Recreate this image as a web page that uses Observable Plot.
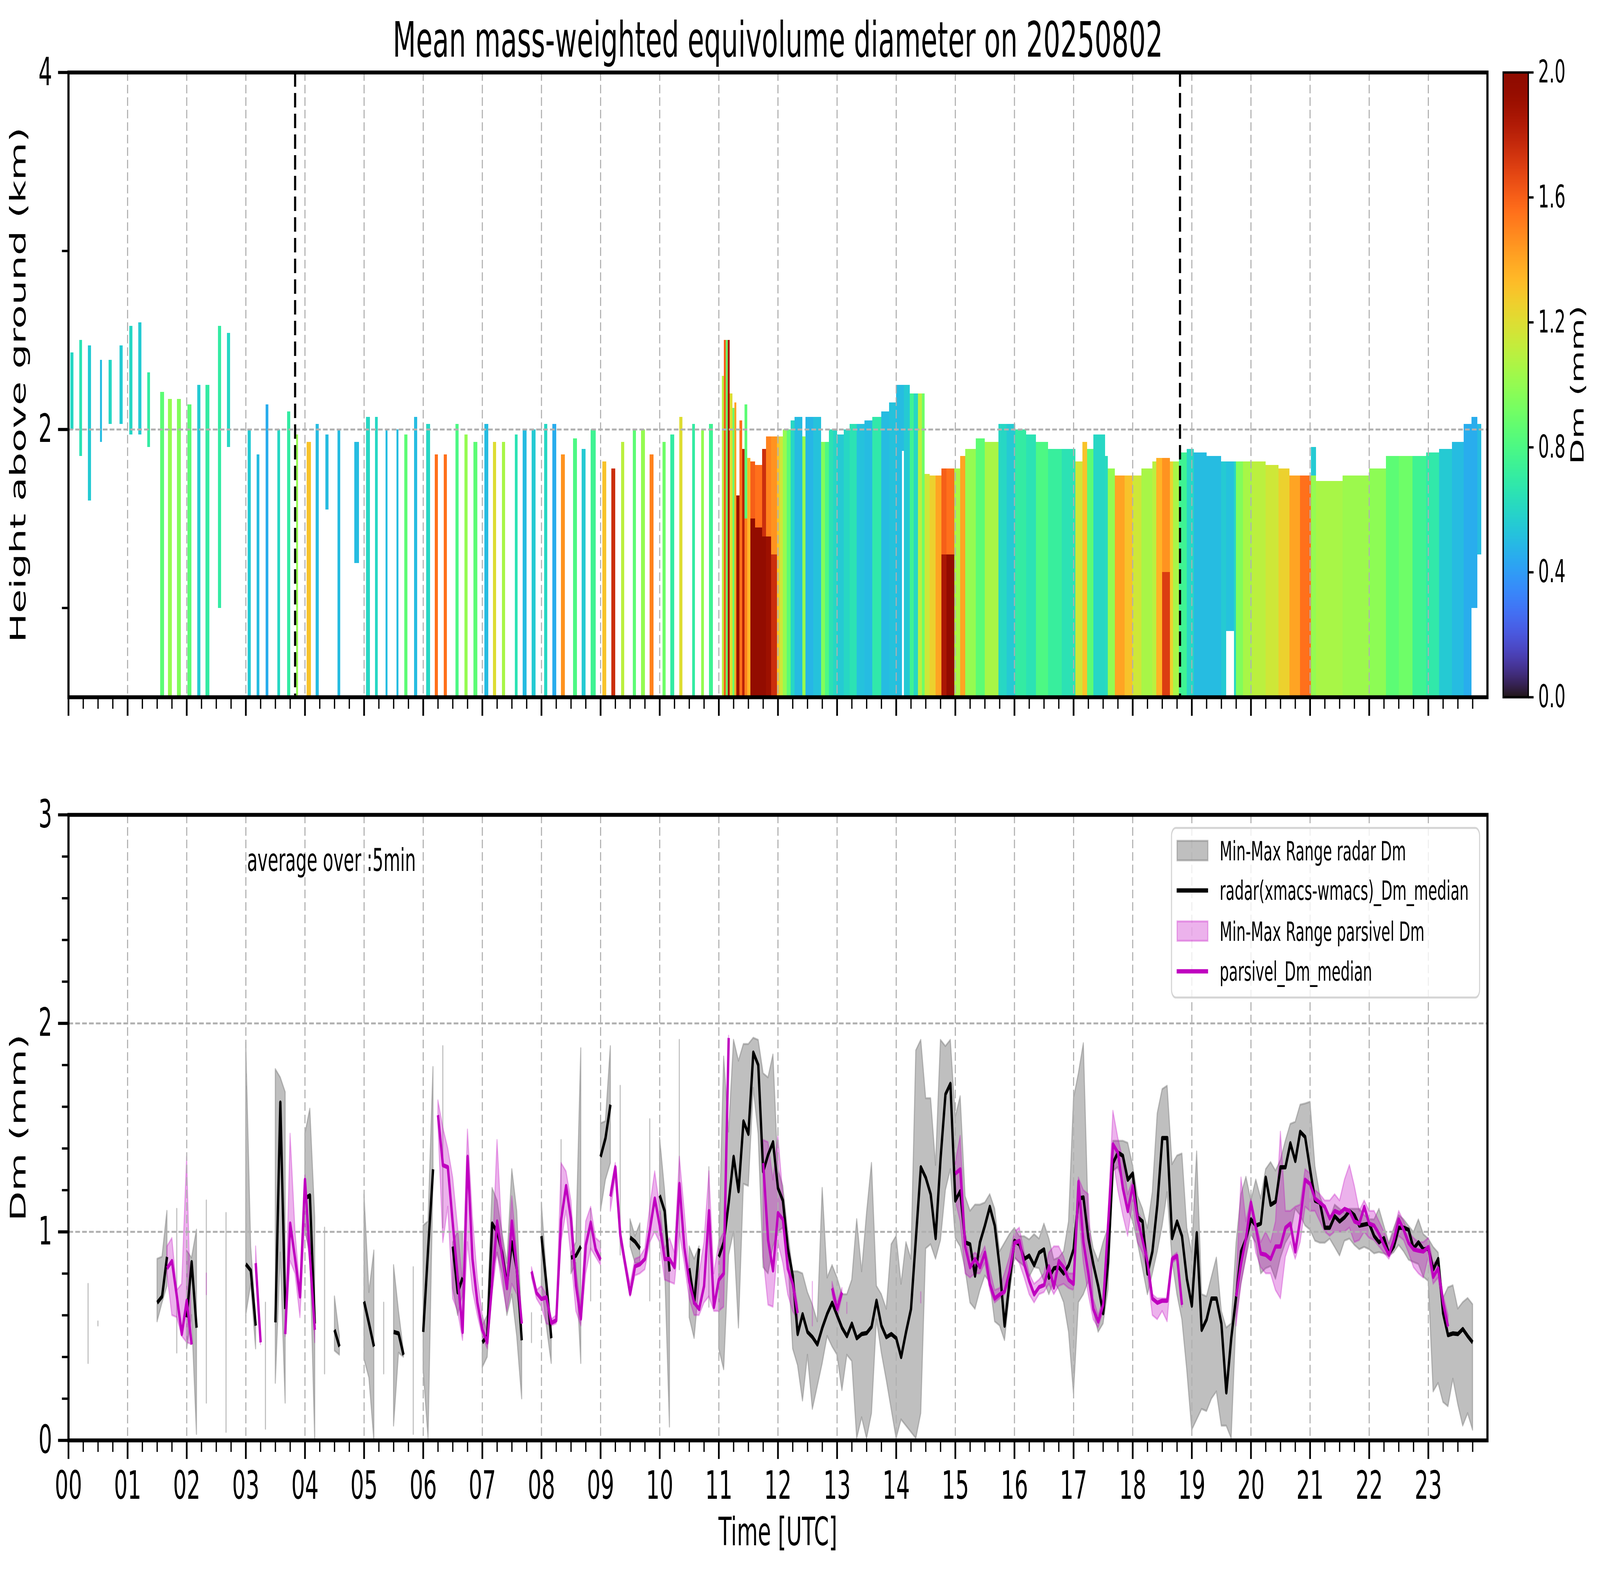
<!DOCTYPE html>
<html><head><meta charset="utf-8">
<script src="https://cdn.jsdelivr.net/npm/d3@7"></script>
<script src="https://cdn.jsdelivr.net/npm/@observablehq/plot@0.6"></script>
<style>
html,body{margin:0;padding:0;background:#fff;overflow:hidden;}
#wrap{position:relative;overflow:hidden;background:#fff;}
#fig{position:absolute;left:0;top:0;width:7442px;height:4031px;background:#fff;overflow:hidden;font-family:"DejaVu Sans",sans-serif;transform-origin:0 0;}
#fig svg{position:absolute;max-width:none;}
</style></head>
<body><div id="wrap"><div id="fig"></div></div>
<script>
// ---------- tick labels ----------
const hourLabels = ["00","01","02","03","04","05","06","07","08","09","10","11","12","13","14","15","16","17","18","19","20","21","22","23"];
const heightTicks = [2, 4];
const heightMinor = [1, 3];
const dmTicks = [0, 1, 2, 3];
const dmMinor = [0.2, 0.4, 0.6, 0.8, 1.2, 1.4, 1.6, 1.8, 2.2, 2.4, 2.6, 2.8];
const cbarTicks = [0, 0.4, 0.8, 1.2, 1.6, 2.0];
const eventTimes = [230, 1128]; // minutes of day (dashed markers)

// ---------- top panel: Dm curtain cells [startMin, endMin, topKm, bottomKm, Dm] ----------
const stripeCells = [
 [2,5,2.43,2.0,0.6],[11,14,2.5,1.85,0.65],[20,23,2.47,1.6,0.55],[32,34,2.39,1.93,0.5],[41,44,2.39,2.03,0.6],
 [52,55,2.47,2.03,0.55],[62,65,2.58,1.97,0.6],[71,74,2.6,1.97,0.55],[80,83,2.32,1.9,0.7],[93,97,2.21,0.5,0.85],
 [101,105,2.17,0.5,1.0],[110,114,2.17,0.5,0.95],[121,125,2.14,0.5,0.85],[131,134,2.25,0.5,0.55],[139,143,2.25,0.5,0.7],
 [152,155,2.58,1.0,0.7],[161,164,2.54,1.9,0.6],[182,185,2.0,0.5,0.55],[191,194,1.86,0.5,0.5],[200,203,2.14,0.5,0.45],
 [212,215,2.0,0.5,0.6],[222,225,2.1,0.5,0.7],[231,233,1.97,0.5,1.0],[242,246,1.93,0.5,1.3],[251,254,2.03,0.5,0.5],
 [261,264,1.97,1.55,0.5],[273,276,2.0,0.5,0.5],[290,295,1.93,1.25,0.5],[302,306,2.07,0.5,0.6],[311,314,2.07,0.5,0.6],
 [322,324,2.0,0.5,0.5],[333,335,2.0,0.5,0.5],[341,344,1.97,0.5,0.85],[351,354,2.07,0.5,0.5],[363,367,2.03,0.5,0.6],
 [372,375,1.86,0.5,1.55],[381,384,1.86,0.5,1.55],[393,396,2.03,0.5,0.8],[402,405,1.97,0.5,1.0],[411,415,1.93,0.5,0.85],
 [422,426,2.03,0.5,0.5],[431,434,1.93,0.5,1.2],[440,443,1.93,0.5,1.05],[453,456,1.97,0.5,0.65],[461,465,2.0,0.5,0.5],
 [470,474,2.0,0.5,0.55],[483,486,2.03,0.5,0.6],[491,495,2.03,0.5,0.45],[500,504,1.86,0.5,1.45],[512,516,1.95,0.5,0.8],
 [521,525,1.89,0.5,0.55],[530,535,2.0,0.5,0.75],[542,546,1.82,0.5,1.3],[551,555,1.78,0.5,1.75],[561,564,1.93,0.5,1.1],
 [573,576,2.0,0.5,0.85],[581,585,2.0,0.5,1.0],[590,594,1.86,0.5,1.5],[603,606,1.93,0.5,0.9],[611,615,1.97,0.5,0.7],
 [620,623,2.07,0.5,1.2],[633,636,2.03,0.5,0.7],[642,645,2.0,0.5,1.0],[650,654,2.03,0.5,0.75]
];
const rainCells = [
 [663,665,2.3,0.5,1.1],[665,667,2.5,0.5,1.6],[667,669,2.5,0.5,0.9],[669,671,2.5,0.5,1.85],[671,674,2.2,0.5,1.2],
 [674,676,2.12,0.5,0.9],[676,678,2.15,0.5,1.4],[678,681,1.63,0.5,1.9],[681,684,2.05,0.5,1.55],[684,686,1.89,0.5,1.8],
 [686,689,2.14,1.5,0.85],[686,689,1.5,0.5,1.5],[689,692,1.84,0.5,1.35],[692,697,1.82,1.5,1.6],[692,697,1.5,0.5,1.95],
 [697,704,1.8,1.45,1.55],[697,704,1.45,0.5,1.95],[704,708,1.89,1.4,1.75],[704,708,1.4,0.5,1.95],[708,713,1.96,1.4,1.5],
 [708,713,1.4,0.5,1.9],[713,719,1.96,1.3,1.45],[713,719,1.3,0.5,1.75],[719,722,1.96,0.5,1.3],[722,725,1.96,0.5,1.15],
 [725,729,2.0,0.5,1.0],[729,733,2.0,0.5,0.85],[733,737,2.05,0.5,0.6],[737,745,2.07,0.5,0.5],[745,748,1.96,0.5,1.0],
 [748,756,2.07,0.5,0.48],[756,764,2.07,0.5,0.52],[764,768,1.93,0.5,0.95],[768,772,1.93,0.5,0.8],[772,776,2.0,0.5,0.65],
 [776,780,2.0,0.5,0.6],[780,787,1.97,0.5,0.55],[787,793,2.0,0.5,0.6],[793,800,2.03,0.5,0.65],[800,808,2.03,0.5,0.52],
 [808,816,2.05,0.5,0.5],[816,825,2.07,0.5,0.68],[825,833,2.1,0.5,0.5],[833,840,2.15,0.5,0.52],[840,846,2.25,0.5,0.5],
 [846,848,2.25,1.88,0.5],[848,854,2.25,0.5,0.55],[854,858,2.2,0.5,0.75],[858,862,2.2,0.5,0.6],[862,866,2.2,0.5,1.1],
 [866,869,2.2,0.5,0.9],[869,874,1.75,0.5,1.15],[874,880,1.74,0.5,1.25],[880,886,1.74,0.5,1.4],[886,891,1.78,1.3,1.6],
 [886,891,1.3,0.5,1.85],[891,899,1.78,1.3,1.55],[891,899,1.3,0.5,1.95],[899,905,1.78,0.5,1.05],[905,910,1.85,0.5,1.4],
 [910,921,1.89,0.5,1.0],[921,930,1.95,0.5,0.85],[930,944,1.93,0.5,1.05],[944,952,2.03,0.5,0.6],[952,961,2.03,0.5,0.55],
 [961,972,2.0,0.5,0.7],[972,982,1.97,0.5,0.65],[982,994,1.93,0.5,0.8],[994,1008,1.89,0.5,0.72],[1008,1022,1.89,0.5,0.65],
 [1022,1029,1.82,0.5,1.15],[1029,1034,1.93,0.5,1.3],[1034,1040,1.89,0.5,0.85],[1040,1052,1.97,0.5,0.6],[1052,1055,1.85,0.5,0.62],
 [1055,1062,1.78,0.5,1.0],[1062,1072,1.74,0.5,1.4],[1072,1080,1.74,0.5,1.3],[1080,1089,1.74,0.5,1.15],[1089,1100,1.78,0.5,1.05],
 [1100,1104,1.82,0.5,1.1],[1104,1110,1.84,0.5,1.35],[1110,1118,1.84,1.2,1.45],[1110,1118,1.2,0.5,1.7],[1118,1121,1.82,0.5,1.25],
 [1121,1127,1.82,0.5,1.05],[1127,1135,1.87,0.5,0.75],[1135,1142,1.89,0.5,0.6],[1142,1155,1.87,0.5,0.5],[1155,1170,1.85,0.5,0.5],
 [1170,1175,1.82,0.5,0.55],[1175,1183,1.82,0.87,0.52],[1183,1185,1.82,0.5,0.6],[1185,1192,1.82,0.5,0.95],[1192,1201,1.82,0.5,1.05],
 [1201,1215,1.82,0.5,1.1],[1215,1228,1.8,0.5,1.15],[1228,1239,1.78,0.5,1.25],[1239,1250,1.74,0.5,1.4],[1250,1261,1.74,0.5,1.55],
 [1261,1266,1.9,1.74,0.55],[1261,1266,1.74,0.5,1.0],[1266,1293,1.71,0.5,1.05],[1293,1320,1.74,0.5,1.02],[1320,1337,1.78,0.5,0.98],
 [1337,1350,1.85,0.5,0.85],[1350,1364,1.85,0.5,0.9],[1364,1378,1.85,0.5,0.75],[1378,1391,1.87,0.5,0.68],[1391,1404,1.89,0.5,0.55],
 [1404,1416,1.93,0.5,0.5],[1416,1424,2.03,0.5,0.45],[1424,1430,2.07,1.0,0.45],[1430,1434,2.03,1.3,0.5]
];

// ---------- bottom panel: [minute, min, median, max]; null = gap ----------
const radarRows = [
 [20,.37,null,.75],null,[30,.55,null,.57],null,
 [90,.57,.66,.87],[95,.66,.69,.88],[100,.74,.88,1.10],null,
 [110,.42,null,1.11],null,
 [120,.44,.59,.91],[125,.60,.855,.875],[130,.03,.54,1.01],null,
 [140,.18,null,1.15],null,[160,.04,null,1.09],null,
 [180,.60,.845,1.91],[185,.75,.815,.93],[190,.44,.55,.60],null,
 [200,.055,null,.66],null,
 [210,.275,.566,1.78],[215,.90,1.62,1.74],[220,.18,.63,1.67],null,
 [240,1.0,1.16,1.47],[245,.90,1.175,1.59],[250,0,.56,1.07],null,
 [260,.32,null,1.02],null,
 [270,.43,.53,.69],[275,.41,.45,.50],null,
 [300,.39,.666,1.18],[305,.30,.56,.71],[310,0,.45,.91],null,
 [320,.32,null,.66],null,
 [330,.07,.52,.84],[335,.42,.513,.62],[340,.40,.41,.43],null,
 [350,.03,null,.83],null,
 [360,.34,.52,1.03],[365,.01,.92,1.05],[370,1.25,1.30,1.79],null,
 [380,1.02,null,1.89],null,
 [390,.73,.93,.95],[395,.60,.71,1.0],[400,.70,.78,1.0],null,
 [420,.35,.47,.55],[425,.40,.50,.60],[430,.80,1.04,1.21],[435,.90,1.0,1.15],[440,.80,.90,1.0],[445,.60,.75,.85],[450,.70,.95,1.30],[455,.50,.82,1.10],[460,.20,.48,.55],null,
 [470,.47,null,.61],null,
 [480,.75,.98,1.14],[485,.55,.75,.80],[490,.37,.49,.55],null,
 [500,1.0,null,1.44],null,
 [510,.80,.876,.90],[515,.85,.886,.95],[520,.37,.93,1.88],null,
 [530,.67,null,1.11],null,
 [540,1.10,1.36,1.52],[545,1.25,1.45,1.53],[550,1.33,1.61,1.89],null,
 [560,.89,null,1.70],null,
 [570,.93,.973,1.06],[575,.85,.953,.98],[580,.85,.92,1.04],null,
 [590,.67,null,1.54],null,
 [600,1.10,1.175,1.45],[605,.85,1.10,1.20],[610,.065,.81,.85],null,
 [620,.82,null,1.92],null,
 [630,.59,.825,.93],[635,.49,.66,.87],[640,.75,.92,.93],null,
 [650,.64,null,1.31],null,
 [660,.44,.88,.92],[665,.34,.95,1.84],[670,.89,1.14,1.48],[675,1.0,1.36,1.92],[680,.54,1.195,1.82],[685,1.23,1.53,1.90],[690,1.22,1.47,1.90],[695,1.69,1.86,1.93],[700,1.47,1.80,1.92],[705,.83,1.29,1.76],
 [710,.80,1.37,1.74],[715,.93,1.43,1.85],[720,1.0,1.21,1.30],[725,1.02,1.15,1.22],[730,.90,.92,1.0],[735,.44,.79,.81],[740,.36,.51,.81],[745,.19,.605,.80],[750,.41,.52,.71],[755,.15,.495,.65],
 [760,.26,.46,.57],[765,.37,.54,1.21],[770,.50,.607,.78],[775,.45,.66,.84],[780,.41,.60,.78],[785,.24,.54,.70],[790,.41,.50,.70],[795,.38,.56,.77],[800,.01,.49,1.06],[805,.11,.51,.81],
 [810,.01,.515,1.09],[815,.13,.545,1.33],[820,.58,.67,.74],[825,.42,.55,.70],[830,.29,.495,.63],[835,.15,.51,.94],[840,.01,.49,.98],[845,.10,.40,.75],[850,.07,.52,.95],[855,.04,.63,.87],
 [860,.01,.97,1.87],[865,.13,1.31,1.92],[870,.92,1.26,1.64],[875,.94,1.18,1.64],[880,.87,.97,1.32],[885,.96,1.35,1.92],[890,1.2,1.66,1.89],[895,1.3,1.71,1.92],[900,.97,1.15,1.55],[905,.93,1.195,1.65],
 [910,.82,.95,1.17],[915,.66,.94,1.10],[920,.63,.79,1.13],[925,.72,.95,1.13],[930,.79,1.03,1.14],[935,.76,1.12,1.18],[940,.57,1.03,1.11],
 [945,.55,.83,.906],[950,.48,.55,.947],[955,.70,.76,.988],[960,.876,.957,1.018],[965,.855,.94,.978],[970,.835,.87,.978],[975,.784,.886,.963],[980,.83,.84,.988],[985,.825,.90,.967],[990,.764,.916,1.039],
 [995,.70,.78,.967],[1000,.764,.825,.866],[1005,.723,.83,.876],[1010,.662,.80,.906],[1015,.52,.84,1.049],[1020,.224,.916,1.64],[1025,.662,1.16,1.76],[1030,.70,1.165,1.904],[1035,.764,.97,1.05],[1040,.62,.845,.92],
 [1045,.52,.74,.86],[1050,.56,.61,.95],[1055,.723,.855,1.02],[1060,1.293,1.33,1.436],[1065,1.31,1.38,1.436],[1070,1.23,1.365,1.436],[1075,1.11,1.25,1.426],[1080,1.05,1.28,1.318],[1085,.947,1.07,1.171],[1090,.825,1.05,1.11],
 [1095,.70,.80,1.018],[1100,.80,.906,1.19],[1105,.906,1.13,1.568],[1110,1.03,1.45,1.684],[1115,1.19,1.45,1.70],[1120,.866,.97,1.324],[1125,.70,1.05,1.365],[1130,.58,.98,1.375],[1135,.336,.774,1.018],[1140,.05,.646,.896],
 [1145,.10,.994,1.385],[1150,.15,.53,.70],[1155,.14,.58,.69],[1160,.20,.68,.784],[1165,.234,.68,.876],[1170,.07,.56,.62],[1175,.07,.23,.54],[1180,.01,.49,.56],[1185,.59,.69,.947],[1190,.754,.906,1.18],
 [1195,.876,.967,1.263],[1200,.988,1.06,1.15],[1205,.947,1.03,1.25],[1210,.80,1.04,1.16],[1215,.825,1.26,1.30],[1220,.835,1.13,1.334],[1225,.774,1.145,1.293],[1230,.876,1.31,1.344],[1235,.947,1.31,1.436],[1240,.988,1.425,1.517],
 [1245,1.11,1.34,1.527],[1250,1.08,1.48,1.609],[1255,1.03,1.455,1.615],[1260,1.01,1.30,1.623],[1265,.957,1.15,1.314],[1270,.947,1.14,1.171],[1275,.947,1.02,1.11],[1280,.967,1.02,1.059],[1285,.927,1.075,1.13],[1290,.886,1.05,1.11],
 [1295,.957,1.07,1.09],[1300,.967,1.10,1.11],[1305,.937,1.08,1.11],[1310,.916,1.03,1.11],[1315,.927,1.035,1.08],[1320,.916,1.04,1.06],[1325,.896,.98,1.059],[1330,.902,.95,1.11],[1335,.896,.97,1.028],[1340,.886,.896,.947],
 [1345,.902,.93,1.018],[1350,.937,1.02,1.08],[1355,.906,1.02,1.059],[1360,.866,1.01,1.028],[1365,.855,.92,.998],[1370,.845,.95,1.059],[1375,.784,.916,.988],[1380,.764,.92,.967],[1385,.234,.82,.927],[1390,.275,.87,.90],
 [1395,.183,.61,.682],[1400,.163,.505,.733],[1405,.295,.513,.743],[1410,.173,.51,.631],[1415,.07,.534,.662],[1420,.13,.50,.682],[1425,.05,.47,.652]
];
const parsivelRows = [
 [100,.80,.825,.93],[105,.60,.86,.97],[110,.59,.69,.72],[115,.50,.51,.75],[120,.47,.67,1.36],[125,.46,.46,.47],null,
 [140,.70,null,.80],null,
 [190,.84,.85,.93],[195,.46,.47,.48],null,
 [220,.50,.51,.52],[225,.86,1.04,1.47],[230,.80,.87,1.0],[235,.59,.69,.72],[240,1.05,1.25,1.27],[245,.85,.885,.95],[250,.47,.53,.55],null,
 [375,1.52,1.56,1.63],[380,.95,1.32,1.50],[385,1.12,1.31,1.40],[390,.68,1.04,1.26],[395,.62,.78,1.02],[400,.48,.52,.75],[405,.95,1.36,1.49],[410,.72,.87,1.07],[415,.60,.66,.78],[420,.50,.53,.60],
 [425,.44,.47,.52],[430,.70,.76,.85],[435,.90,1.05,1.44],[440,.75,.886,.98],[445,.62,.73,.78],[450,.75,1.05,1.17],[455,.70,.82,.90],[460,.55,.56,.57],null,
 [470,.78,.81,.83],[475,.68,.707,.72],[480,.64,.678,.74],[485,.56,.686,.70],[490,.55,.564,.58],[495,.56,.576,.60],[500,.95,1.06,1.33],[505,1.10,1.22,1.29],[510,.88,1.06,1.15],[515,.62,.743,.82],
 [520,.55,.584,.64],[525,.80,.936,1.05],[530,.92,1.045,1.12],[535,.88,.916,.97],[540,.84,.866,.95],null,
 [550,1.10,1.17,1.20],[555,1.26,1.31,1.33],[560,.95,.985,1.02],[565,.82,.845,.87],[570,.69,.703,.75],[575,.79,.835,.87],[580,.80,.845,.88],[585,.82,.87,.92],[590,.95,1.01,1.12],[595,1.0,1.16,1.29],
 [600,.95,1.03,1.12],[605,.77,.87,.92],[610,.76,.87,.97],[615,.75,.83,.90],[620,1.0,1.23,1.36],[625,.85,.925,1.10],[630,.68,.76,.82],[635,.60,.66,.72],[640,.60,.63,.80],[645,.66,.74,.95],
 [650,.69,1.10,1.29],[655,.62,.64,.80],[660,.62,.77,.95],[665,.64,.80,1.0],[670,1.90,1.93,1.94],null,
 [705,.88,1.33,1.44],[710,.65,.96,1.43],[715,.64,.815,1.25],[720,.95,1.09,1.46],[725,.85,1.06,1.18],[730,.70,.825,.95],[735,.62,.75,.80],[740,.58,.61,.65],null,
 [755,.55,null,.76],null,
 [775,.70,.73,.76],[780,.58,.63,.66],[785,.69,.71,.73],null,
 [790,.61,null,.66],null,
 [865,.66,null,.71],null,
 [900,1.15,1.28,1.33],[905,1.05,1.30,1.46],[910,.80,.93,1.0],[915,.78,.83,.88],[920,.80,.87,.90],[925,.80,.83,.88],[930,.85,.90,.93],[935,.72,.75,.82],[940,.66,.68,.72],[945,.68,.70,.73],
 [950,.70,.714,.80],[955,.76,.81,.88],[960,.88,.947,1.0],[965,.85,.957,1.02],[970,.78,.845,.90],[975,.70,.764,.80],[980,.66,.70,.75],[985,.70,.735,.77],[990,.71,.745,.80],[995,.75,.835,.90],
 [1000,.70,.733,.93],[1005,.74,.86,.93],[1010,.75,.83,.88],[1015,.73,.77,.80],[1020,.72,.75,.80],[1025,1.10,1.24,1.26],[1030,.85,.95,1.20],[1035,.70,.80,1.18],[1040,.58,.63,.68],[1045,.54,.57,.60],
 [1050,.62,.65,.68],[1055,.95,1.03,1.08],[1060,1.35,1.42,1.58],[1065,1.20,1.38,1.45],[1070,1.08,1.21,1.35],[1075,.98,1.10,1.18],[1080,1.15,1.22,1.25],[1085,.95,1.06,1.10],[1090,.90,.96,1.05],[1095,.80,.855,.90],
 [1100,.60,.68,.70],[1105,.58,.66,.68],[1110,.62,.67,.68],[1115,.57,.67,.68],[1120,.85,.87,.88],[1125,.87,.885,.90],[1130,.64,.65,.66],null,
 [1185,.55,.69,.75],[1190,.75,.85,1.26],[1195,.88,.97,1.05],[1200,1.05,1.14,1.16],[1205,.90,1.02,1.05],[1210,.83,.896,.95],[1215,.80,.89,1.0],[1220,.80,.87,.95],[1225,.72,.93,1.05],[1230,.68,.93,1.48],
 [1235,.88,1.02,1.10],[1240,.95,1.04,1.10],[1245,.87,.906,1.12],[1250,.95,1.06,1.13],[1255,1.12,1.25,1.30],[1260,1.10,1.23,1.28],[1265,1.10,1.16,1.20],[1270,1.05,1.14,1.18],[1275,1.0,1.12,1.15],[1280,.98,1.065,1.15],
 [1285,1.0,1.10,1.18],[1290,1.0,1.09,1.15],[1295,1.0,1.11,1.25],[1300,1.02,1.10,1.32],[1305,.95,1.05,1.22],[1310,.96,1.04,1.10],[1315,1.0,1.12,1.15],[1320,.97,1.04,1.10],[1325,.96,1.03,1.10],[1330,.93,.99,1.05],
 [1335,.90,.937,1.0],[1340,.87,.89,.94],[1345,.92,.96,1.0],[1350,.98,1.06,1.10],[1355,.96,1.01,1.05],[1360,.90,.947,1.0],[1365,.83,.916,.97],[1370,.80,.91,.95],[1375,.78,.906,.95],[1380,.88,.927,.97],
 [1385,.75,.784,.85],[1390,.78,.825,.86],[1395,.62,.66,.70],[1400,.52,.546,.60]
];

// ---------- build ----------
const hourTicks = hourLabels.map((_, i) => i * 60);
const quarterTicks = d3.range(15, 1441, 15).filter(m => m % 60 !== 0);
const toCells = a => a.map(([t0, t1, top, bot, dm]) => ({t0, t1, top, bot, dm}));
const cells = [...toCells(stripeCells), ...toCells(rainCells)];
const toRec = rows => rows.map(r => r ? {t: r[0], lo: r[1], med: r[2] == null ? NaN : r[2], hi: r[3]} : {t: NaN, lo: NaN, med: NaN, hi: NaN});
const radar = toRec(radarRows), pars = toRec(parsivelRows);

const W = 7442, H = 4031, FONT = "DejaVu Sans";
const colorOpt = {type: "linear", scheme: "turbo", domain: [0, 2], clamp: true};
const gridStyle = {stroke: "#b0b0b0", strokeOpacity: 1, strokeWidth: 5, strokeDasharray: "22,10"};
const PL = 318, PR = W - 6918;
const fig = document.getElementById("fig");
const wrap = document.getElementById("wrap");

const topPlot = Plot.plot({
  width: W, height: 1900, marginLeft: PL, marginRight: PR, marginTop: 185, marginBottom: 116,
  style: {fontFamily: FONT, background: "transparent", color: "black", overflow: "visible"},
  x: {domain: [0, 1440]}, y: {domain: [0.5, 4]}, color: colorOpt,
  marks: [
    Plot.rect(cells, {x1: "t0", x2: "t1", y1: "bot", y2: "top", fill: "dm", inset: 0, shapeRendering: "crispEdges"}),
    Plot.gridX(hourTicks, gridStyle),
    Plot.gridY([2], gridStyle),
    Plot.ruleX(eventTimes, {stroke: "black", strokeWidth: 10, strokeDasharray: "37,16"}),
    Plot.axisX(hourTicks, {anchor: "bottom", tickSize: 48, strokeWidth: 8, tickFormat: () => "", label: null}),
    Plot.axisX(quarterTicks, {anchor: "bottom", tickSize: 30, strokeWidth: 6, tickFormat: () => "", label: null}),
    Plot.axisY(heightTicks, {anchor: "left", tickSize: 48, strokeWidth: 8, tickPadding: 28, fontSize: 100, tickFormat: d => String(d), label: null}),
    Plot.axisY(heightMinor, {anchor: "left", tickSize: 30, strokeWidth: 6, tickFormat: () => "", label: null}),
    Plot.frame({stroke: "black", strokeWidth: 10})
  ]
});
topPlot.style.left = "0px"; topPlot.style.top = "0px";
fig.appendChild(topPlot);

const cbarSteps = d3.range(0, 2, 0.005);
const cbar = Plot.plot({
  width: 452, height: 1900, marginLeft: 1, marginRight: 452 - 1 - 117, marginTop: 185, marginBottom: 116,
  style: {fontFamily: FONT, background: "transparent", color: "black", overflow: "visible"},
  x: {domain: [0, 1], axis: null}, y: {domain: [0, 2]}, color: colorOpt,
  marks: [
    Plot.rect(cbarSteps, {x1: 0, x2: 1, y1: d => d, y2: d => d + 0.006, fill: d => d}),
    Plot.axisY(cbarTicks, {anchor: "right", tickSize: 24, strokeWidth: 6, tickPadding: 22, fontSize: 80, tickFormat: d3.format(".1f"), label: null}),
    Plot.frame({stroke: "black", strokeWidth: 6})
  ]
});
cbar.style.left = "6990px"; cbar.style.top = "0px";
fig.appendChild(cbar);

const bot = Plot.plot({
  width: W, height: 2131, marginLeft: PL, marginRight: PR, marginTop: 185, marginBottom: 345,
  style: {fontFamily: FONT, background: "transparent", color: "black", overflow: "visible"},
  x: {domain: [0, 1440]}, y: {domain: [0, 3]},
  marks: [
    Plot.areaY(radar, {x: "t", y1: "lo", y2: "hi", fill: "#808080", fillOpacity: 0.5, stroke: "#808080", strokeOpacity: 0.5, strokeWidth: 5}),
    Plot.areaY(pars, {x: "t", y1: "lo", y2: "hi", fill: "#bf00bf", fillOpacity: 0.3, stroke: "#bf00bf", strokeOpacity: 0.3, strokeWidth: 5}),
    Plot.gridX(hourTicks, gridStyle),
    Plot.gridY([1, 2], gridStyle),
    Plot.lineY(radar, {x: "t", y: "med", stroke: "black", strokeWidth: 11, strokeLinecap: "butt"}),
    Plot.lineY(pars, {x: "t", y: "med", stroke: "#bf00bf", strokeWidth: 11, strokeLinecap: "butt"}),
    Plot.axisX(hourTicks, {anchor: "bottom", tickSize: 48, strokeWidth: 8, tickPadding: 30, fontSize: 100, tickFormat: (d, i) => hourLabels[i], label: null}),
    Plot.axisX(quarterTicks, {anchor: "bottom", tickSize: 30, strokeWidth: 6, tickFormat: () => "", label: null}),
    Plot.axisY(dmTicks, {anchor: "left", tickSize: 48, strokeWidth: 8, tickPadding: 28, fontSize: 100, tickFormat: d => String(d), label: null}),
    Plot.axisY(dmMinor, {anchor: "left", tickSize: 30, strokeWidth: 6, tickFormat: () => "", label: null}),
    Plot.frame({stroke: "black", strokeWidth: 10})
  ]
});
bot.style.left = "0px"; bot.style.top = "1900px";
fig.appendChild(bot);

// ---------- text & legend overlay ----------
const ov = d3.select(fig).append("svg").attr("width", W).attr("height", H)
  .style("left", "0px").style("top", "0px").attr("font-family", FONT);
ov.append("text").attr("x", 3618).attr("y", 145).attr("text-anchor", "middle").attr("font-size", 125).text("Mean mass-weighted equivolume diameter on 20250802");
ov.append("text").attr("transform", "translate(118,985) rotate(-90)").attr("text-anchor", "middle").attr("font-size", 100).text("Height above ground (km)");
ov.append("text").attr("transform", "translate(118,2886) rotate(-90)").attr("text-anchor", "middle").attr("font-size", 100).text("Dm (mm)");
ov.append("text").attr("transform", "translate(7365,985) rotate(-90)").attr("text-anchor", "middle").attr("font-size", 85).text("Dm (mm)");
ov.append("text").attr("x", 3618).attr("y", 3955).attr("text-anchor", "middle").attr("font-size", 100).text("Time [UTC]");
ov.append("text").attr("x", 1149).attr("y", 2229).attr("font-size", 80).text("average over :5min");

const lg = ov.append("g");
lg.append("rect").attr("x", 5449).attr("y", 2119).attr("width", 1433).attr("height", 434).attr("rx", 20)
  .attr("fill", "white").attr("fill-opacity", 0.8).attr("stroke", "#d4d4d4").attr("stroke-width", 5);
const items = [
  {kind: "patch", color: "#808080", op: 0.5, label: "Min-Max Range radar Dm", y: 2202},
  {kind: "line", color: "black", label: "radar(xmacs-wmacs)_Dm_median", y: 2303},
  {kind: "patch", color: "#bf00bf", op: 0.3, label: "Min-Max Range parsivel Dm", y: 2408},
  {kind: "line", color: "#bf00bf", label: "parsivel_Dm_median", y: 2510}
];
for (const it of items) {
  if (it.kind === "patch") {
    lg.append("rect").attr("x", 5475).attr("y", it.y - 50).attr("width", 143).attr("height", 50)
      .attr("fill", it.color).attr("fill-opacity", it.op).attr("stroke", it.color).attr("stroke-opacity", it.op).attr("stroke-width", 5);
  } else {
    lg.append("line").attr("x1", 5473).attr("x2", 5619).attr("y1", it.y - 24).attr("y2", it.y - 24)
      .attr("stroke", it.color).attr("stroke-width", 11);
  }
  lg.append("text").attr("x", 5673).attr("y", it.y).attr("font-size", 68).text(it.label);
}

// ---------- fit the 7442x4031 figure to the browser viewport ----------
function fit() {
  const vw = window.innerWidth || document.documentElement.clientWidth || W;
  const vh = window.innerHeight || document.documentElement.clientHeight || H;
  fig.style.transform = "scale(" + (vw / W) + "," + (vh / H) + ")";
  wrap.style.width = vw + "px";
  wrap.style.height = vh + "px";
}
fit();
window.addEventListener("resize", fit);
</script>
</body></html>
